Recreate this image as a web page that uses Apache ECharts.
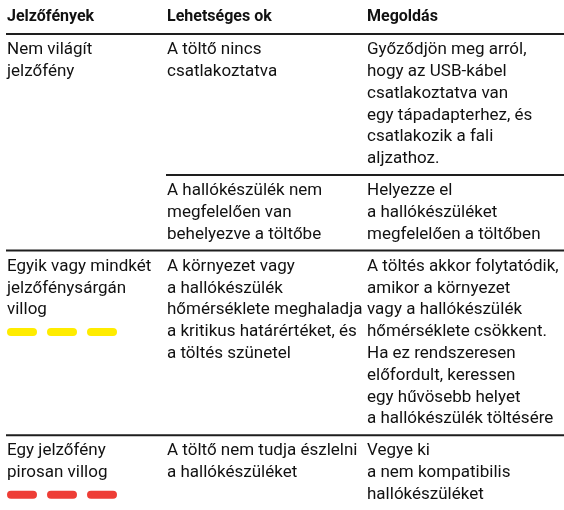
<!DOCTYPE html>
<html><head><meta charset="utf-8">
<script src="https://cdn.jsdelivr.net/npm/echarts@6/dist/echarts.min.js"></script>
<style>html,body{margin:0;padding:0;background:#fff}#c{width:564px;height:510px}</style>
</head><body><div id="c"></div>
<script>
const headers = ['Jelzőfények', 'Lehetséges ok', 'Megoldás'];
const indicators = [
  ['Nem világít', 'jelzőfény'],
  ['Egyik vagy mindkét', 'jelzőfénysárgán', 'villog'],
  ['Egy jelzőfény', 'pirosan villog']
];
const indicatorBlink = ['none', 'yellow', 'red'];
const causes = [
  [['A töltő nincs', 'csatlakoztatva'], ['A hallókészülék nem', 'megfelelően van', 'behelyezve a töltőbe']],
  [['A környezet vagy', 'a hallókészülék', 'hőmérséklete meghaladja', 'a kritikus határértéket, és', 'a töltés szünetel']],
  [['A töltő nem tudja észlelni', 'a hallókészüléket']]
];
const solutions = [
  [['Győződjön meg arról,', 'hogy az USB-kábel', 'csatlakoztatva van', 'egy tápadapterhez, és', 'csatlakozik a fali', 'aljzathoz.'],
   ['Helyezze el', 'a hallókészüléket', 'megfelelően a töltőben']],
  [['A töltés akkor folytatódik,', 'amikor a környezet', 'vagy a hallókészülék', 'hőmérséklete csökkent.', 'Ha ez rendszeresen', 'előfordult, keressen', 'egy hűvösebb helyet', 'a hallókészülék töltésére']],
  [['Vegye ki', 'a nem kompatibilis', 'hallókészüléket']]
];

// layout / style
const W = 564, H = 510;
const colX = [7, 167, 367];
const LH = 21.8, PAD = 16, headerY = 17, ruleY = 34;
const dashOffsets = [0, 40, 80], dashW = 30, dashH = 8;
const blinkColors = { yellow: '#FFEC00', red: '#EE3D36' };
const FONT_FAMILY = 'Roboto, "Liberation Sans", sans-serif';
const TEXT_COLOR = '#111111';

const texts = [];
const textData = [];
const ruleData = [];
const dashData = [];
const dashColorList = [];

headers.forEach((h, i) => {
  texts.push({ t: h, bold: true });
  textData.push([colX[i], headerY, texts.length - 1]);
});
ruleData.push([6, W, ruleY]);

let sep = ruleY;
indicators.forEach((ind, g) => {
  const first0 = sep + PAD;
  ind.forEach((line, k) => {
    texts.push({ t: line, bold: false });
    textData.push([colX[0], first0 + k * LH, texts.length - 1]);
  });
  const blink = indicatorBlink[g];
  let indLines = ind.length;
  if (blink !== 'none') {
    dashColorList.push(blinkColors[blink]);
    dashOffsets.forEach(o => dashData.push([colX[0] + o, first0 + ind.length * LH, dashColorList.length - 1]));
    indLines += 1;
  }
  const subs = causes[g].length;
  for (let s = 0; s < subs; s++) {
    const first = sep + PAD;
    const c = causes[g][s], so = solutions[g][s];
    c.forEach((line, k) => {
      texts.push({ t: line, bold: false });
      textData.push([colX[1], first + k * LH, texts.length - 1]);
    });
    so.forEach((line, k) => {
      texts.push({ t: line, bold: false });
      textData.push([colX[2], first + k * LH, texts.length - 1]);
    });
    let n = Math.max(c.length, so.length);
    if (subs === 1) n = Math.max(n, indLines);
    sep = first + (n - 1) * LH + PAD;
    const isLastGroup = g === indicators.length - 1;
    if (!(isLastGroup && s === subs - 1)) {
      ruleData.push([s < subs - 1 ? colX[1] - 1 : 6, W, sep]);
    }
  }
});

const chart = echarts.init(document.getElementById('c'), null, { renderer: 'canvas' });
chart.setOption({
  animation: false,
  backgroundColor: '#ffffff',
  grid: { left: 0, right: 0, top: 0, bottom: 0 },
  xAxis: { type: 'value', min: 0, max: W, show: false },
  yAxis: { type: 'value', min: 0, max: H, inverse: true, show: false },
  series: [
    {
      type: 'custom', silent: true, clip: false,
      data: ruleData,
      renderItem: (params, api) => {
        const p1 = api.coord([api.value(0), api.value(2)]);
        const p2 = api.coord([api.value(1), api.value(2)]);
        return { type: 'line', shape: { x1: p1[0], y1: p1[1], x2: p2[0], y2: p2[1] },
          style: { stroke: '#1e1e1e', lineWidth: 2 } };
      }
    },
    {
      type: 'custom', silent: true, clip: false,
      data: dashData,
      renderItem: (params, api) => {
        const p = api.coord([api.value(0), api.value(1)]);
        const p2 = api.coord([api.value(0) + dashW, api.value(1)]);
        return { type: 'rect', shape: { x: p[0], y: p[1] - dashH / 2, width: p2[0] - p[0], height: dashH, r: dashH / 2 },
          style: { fill: dashColorList[api.value(2)] } };
      }
    },
    {
      type: 'custom', silent: true, clip: false,
      data: textData,
      renderItem: (params, api) => {
        const p = api.coord([api.value(0), api.value(1)]);
        const item = texts[api.value(2)];
        return { type: 'text', x: p[0], y: p[1],
          style: { text: item.t, fill: TEXT_COLOR,
            font: (item.bold ? 'bold 16px ' : '17px ') + FONT_FAMILY,
            align: 'left', verticalAlign: 'middle' } };
      }
    }
  ]
});
</script>
</body></html>
